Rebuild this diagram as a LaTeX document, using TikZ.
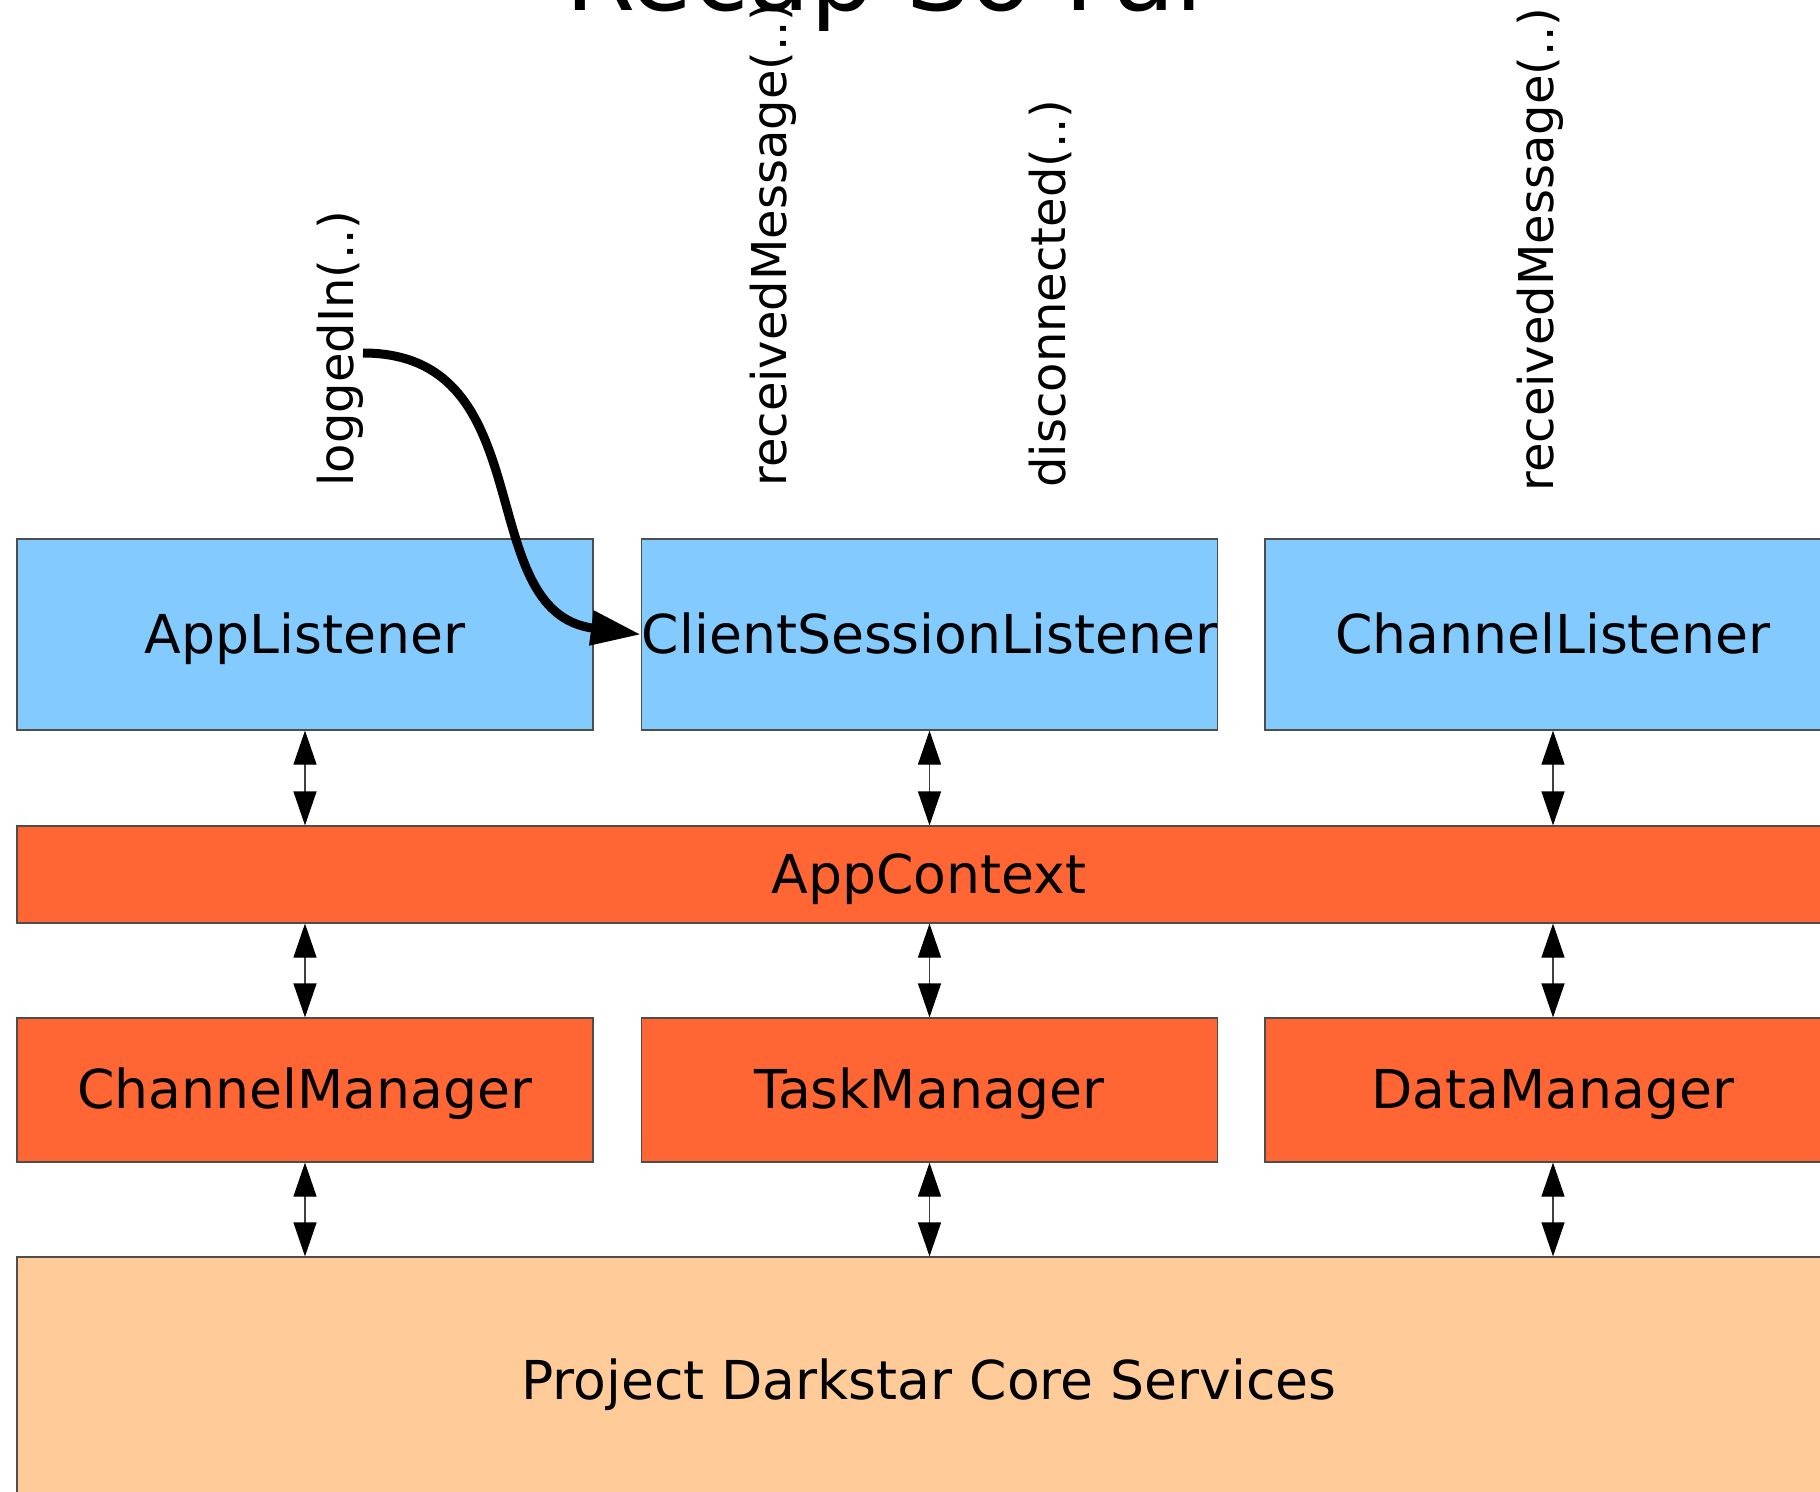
\documentclass[tikz,border=0pt]{standalone}
\usepackage{fontspec}
\setmainfont{DejaVu Sans}
\usetikzlibrary{arrows.meta}
\definecolor{listenerblue}{HTML}{83CAFF}
\definecolor{managerorange}{HTML}{FF6633}
\definecolor{corepeach}{HTML}{FFCC99}
\definecolor{edgegrey}{HTML}{4D4D4D}
\begin{document}
\begin{tikzpicture}[x=0.5pt,y=-0.5pt,
  box/.style={draw=edgegrey, line width=0.6pt, inner sep=0pt,
    minimum width=288pt, font=\fontsize{26.8}{32}\selectfont,
    text height=24.9pt, text depth=6.3pt},
  widebox/.style={box, minimum width=912pt},
  callback/.style={rotate=90, anchor=base west, inner sep=0pt,
    font=\fontsize{24}{29}\selectfont},
  link/.style={draw=black!75, line width=0.6pt,
    {Triangle[length=17pt,width=11.5pt,color=black]}-{Triangle[length=17pt,width=11.5pt,color=black]}},
  flow/.style={line width=4.5pt, -{Triangle[length=25pt,width=16.5pt]}}
]
\useasboundingbox (0,0) rectangle (1820,1492);
\clip (0,0) rectangle (1820,1492);

% heading
\node[anchor=base, inner sep=0pt, font=\fontsize{50.5}{60}\selectfont] (title) at (891,11) {Recap So Far};

% listener layer
\node[box, fill=listenerblue, minimum height=95.5pt] (appl) at (305,634.5) {AppListener};
\node[box, fill=listenerblue, minimum height=95.5pt] (csl) at (929.5,634.5) {ClientSessionListener};
\node[box, fill=listenerblue, minimum height=95.5pt] (chl) at (1553,634.5) {ChannelListener};

% context layer
\node[widebox, fill=managerorange, minimum height=48.5pt] (ctx) at (929,874.5) {AppContext};

% manager layer
\node[box, fill=managerorange, minimum height=72pt] (chm) at (305,1090) {ChannelManager};
\node[box, fill=managerorange, minimum height=72pt] (tsk) at (929.5,1090) {TaskManager};
\node[box, fill=managerorange, minimum height=72pt] (dat) at (1553,1090) {DataManager};

% core services
\node[widebox, fill=corepeach, minimum height=124pt] (core) at (929,1381) {Project Darkstar Core Services};

% two-way links between layers
\draw[link] (appl.south) -- (appl.south |- ctx.north);
\draw[link] (csl.south) -- (csl.south |- ctx.north);
\draw[link] (chl.south) -- (chl.south |- ctx.north);
\draw[link] (ctx.south -| chm.north) -- (chm.north);
\draw[link] (ctx.south -| tsk.north) -- (tsk.north);
\draw[link] (ctx.south -| dat.north) -- (dat.north);
\draw[link] (chm.south) -- (chm.south |- core.north);
\draw[link] (tsk.south) -- (tsk.south |- core.north);
\draw[link] (dat.south) -- (dat.south |- core.north);

% callback names
\node[callback] (loggedin) at (353,487) {loggedIn(..)};
\node[callback] (recvA) at (786,487) {receivedMessage(..)};
\node[callback] (disc) at (1065,488) {disconnected(..)};
\node[callback] (recvB) at (1553,492) {receivedMessage(..)};

% login hand-off to the session listener
\coordinate (loginStart) at (363,353);
\draw[flow] (loginStart) .. controls (545,353) and (470,612) .. (csl.west);
\end{tikzpicture}
\end{document}
